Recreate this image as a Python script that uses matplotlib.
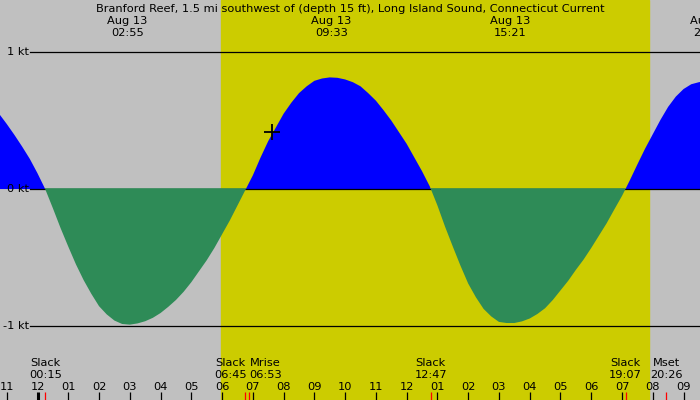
import matplotlib
matplotlib.use("Agg")
import matplotlib.pyplot as plt
import numpy as np

# hours after midnight, Aug 13, and current speed in knots (flood +, ebb -)
hours = [-1.5, -1.25, -1.0, -0.75, -0.5, -0.25, 0.0, 0.25, 0.5, 0.75,
         1.0, 1.25, 1.5, 1.75, 2.0, 2.25, 2.5, 2.75, 3.0, 3.25,
         3.5, 3.75, 4.0, 4.25, 4.5, 4.75, 5.0, 5.25, 5.5, 5.75,
         6.0, 6.25, 6.5, 6.75, 7.0, 7.25, 7.5, 7.75, 8.0, 8.25,
         8.5, 8.75, 9.0, 9.25, 9.5, 9.75, 10.0, 10.25, 10.5, 10.75,
         11.0, 11.25, 11.5, 11.75, 12.0, 12.25, 12.5, 12.75, 13.0, 13.25,
         13.5, 13.75, 14.0, 14.25, 14.5, 14.75, 15.0, 15.25, 15.5, 15.75,
         16.0, 16.25, 16.5, 16.75, 17.0, 17.25, 17.5, 17.75, 18.0, 18.25,
         18.5, 18.75, 19.0, 19.25, 19.5, 19.75, 20.0, 20.25, 20.5, 20.75,
         21.0, 21.25, 21.5, 21.75, 22.0]
speed = [0.62, 0.55, 0.475, 0.395, 0.31, 0.22, 0.115, 0.0, -0.14, -0.285,
         -0.42, -0.55, -0.665, -0.765, -0.855, -0.915, -0.96, -0.985, -0.99, -0.981,
         -0.965, -0.94, -0.905, -0.86, -0.81, -0.75, -0.68, -0.60, -0.52, -0.43,
         -0.33, -0.23, -0.12, -0.01, 0.10, 0.23, 0.35, 0.45, 0.55, 0.63,
         0.70, 0.75, 0.79, 0.807, 0.815, 0.812, 0.80, 0.78, 0.75, 0.70,
         0.645, 0.575, 0.50, 0.415, 0.33, 0.23, 0.13, 0.02, -0.12, -0.276,
         -0.42, -0.56, -0.69, -0.79, -0.875, -0.93, -0.97, -0.978, -0.978, -0.966,
         -0.945, -0.912, -0.87, -0.81, -0.74, -0.67, -0.59, -0.515, -0.43, -0.34,
         -0.25, -0.149, -0.05, 0.062, 0.18, 0.295, 0.40, 0.505, 0.60, 0.675,
         0.73, 0.765, 0.78, 0.79, 0.79]

# max current events shown along the top
max_hours = [2.917, 9.55, 15.35, 21.85]
max_times = ["02:55", "09:33", "15:21", "21:51"]

# events along the bottom
event_hours = [0.25, 6.75, 6.883, 12.783, 19.117, 20.433]
event_names = ["Slack", "Slack", "Mrise", "Slack", "Slack", "Mset"]
event_times = ["00:15", "06:45", "06:53", "12:47", "19:07", "20:26"]
event_shift = [0, -15, 16, 0, 0, 0]  # pixels, to keep labels apart

sunrise = 5.965
sunset = 19.87
now_hour = 7.62
now_speed = 0.42

title = "Branford Reef, 1.5 mi southwest of (depth 15 ft), Long Island Sound, Connecticut Current"

W, H = 700, 400
fig = plt.figure(figsize=(7, 4), dpi=100)
ax = fig.add_axes([0, 0, 1, 1])
ax.set_xlim(-1.219, 21.535)
ax.set_ylim(-1.540, 1.380)
ax.axis("off")

gray = "#c0c0c0"
yellow = "#cccc00"
ax.axvspan(-5, 30, color=gray, zorder=0)
ax.axvspan(sunrise, sunset, color=yellow, zorder=0.5)

fs = 8.2
tf = ax.get_xaxis_transform()


def py(y):
    return 1 - y / H


# speed lines
for v in [1, -1, 0]:
    ax.axhline(v, xmin=30 / W, xmax=1, color="black", lw=0.9, zorder=2)
    lab = "%d kt" % v
    ax.text(29 / W, v, lab, transform=ax.get_yaxis_transform(), ha="right",
            va="center", fontsize=fs, zorder=5)

t = np.array(hours)
s = np.array(speed)
ax.fill_between(t, 0, s, where=s >= 0, interpolate=True, color="#0000ff", lw=0, zorder=1.5)
ax.fill_between(t, 0.006, s, where=s <= 0.006, interpolate=True, color="#2e8b57", lw=0, zorder=3)

ax.plot([now_hour], [now_speed], marker="+", color="black", ms=11, mew=1.3, zorder=6)

# top labels
ax.text(0.5, py(12), title, transform=ax.transAxes, ha="center", va="baseline", fontsize=fs)
for h, tm in zip(max_hours, max_times):
    ax.text(h, py(24), "Aug 13", transform=tf, ha="center", va="baseline", fontsize=fs)
    ax.text(h, py(36), tm, transform=tf, ha="center", va="baseline", fontsize=fs)

# hour ticks and labels
for hr in range(-1, 22):
    lab = "%02d" % (hr % 12 if hr % 12 else 12)
    ax.text(hr, py(389.5), lab, transform=tf, ha="center", va="baseline", fontsize=fs)
    ax.plot([hr, hr], [py(392), py(400)], transform=tf, color="black",
            lw=2.2 if hr == 0 else 0.9, solid_capstyle="butt", zorder=5)

# event labels and red ticks
for h, nm, tm, dx in zip(event_hours, event_names, event_times, event_shift):
    ax.annotate(nm, (h, py(366)), xycoords=tf, xytext=(dx * 0.72, 0),
                textcoords="offset points", ha="center", va="baseline", fontsize=fs)
    ax.annotate(tm, (h, py(377.5)), xycoords=tf, xytext=(dx * 0.72, 0),
                textcoords="offset points", ha="center", va="baseline", fontsize=fs)
    ax.plot([h, h], [py(392), py(400)], transform=tf, color="red", lw=0.9,
            solid_capstyle="butt", zorder=5)

fig.savefig("out.png", dpi=100)
